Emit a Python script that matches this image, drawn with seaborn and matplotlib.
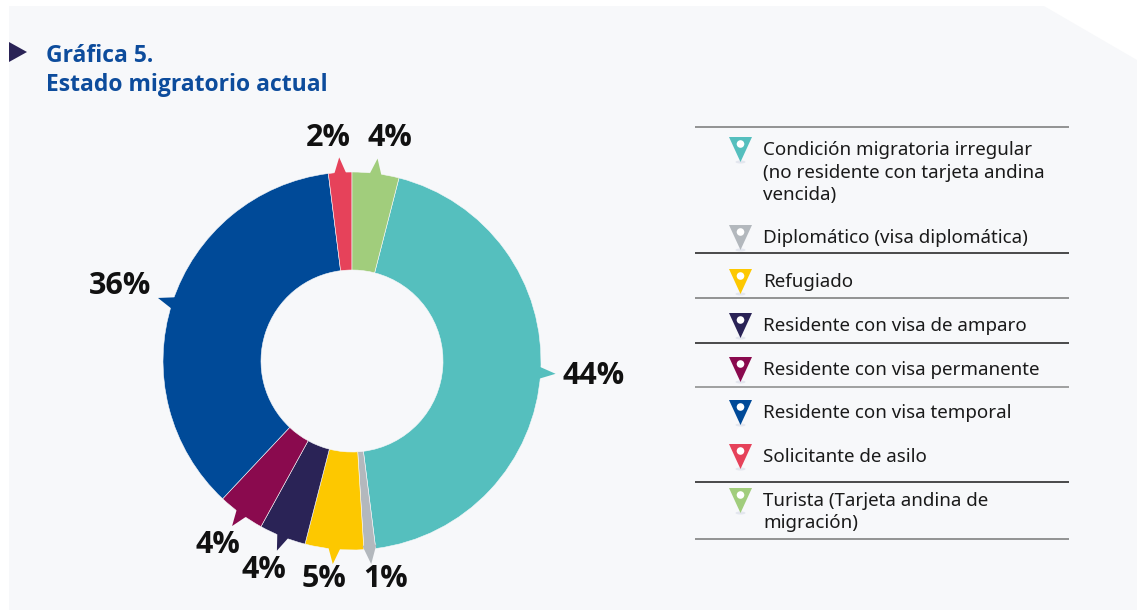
import matplotlib
matplotlib.use("Agg")
import matplotlib.pyplot as plt
import seaborn as sns
import numpy as np
from matplotlib.patches import Polygon, Circle, Ellipse

# ---------------- data ----------------
categories = [
    "Condición migratoria irregular\n(no residente con tarjeta andina\nvencida)",
    "Diplomático (visa diplomática)",
    "Refugiado",
    "Residente con visa de amparo",
    "Residente con visa permanente",
    "Residente con visa temporal",
    "Solicitante de asilo",
    "Turista (Tarjeta andina de\nmigración)",
]
values = [44, 1, 5, 4, 4, 36, 2, 4]
colors = ["#55bfbe", "#b3b8bd", "#fdc800", "#2a2356", "#8a0a4e", "#004a98", "#e6425a", "#a1cd7c"]
title_lines = ["Gráfica 5.", "Estado migratorio actual"]

# ---------------- style ----------------
sns.set_theme(style="white")
plt.rcParams['font.family'] = ['Noto Sans', 'DejaVu Sans']
BOLD = ['Open Sans', 'DejaVu Sans']

W, H = 1137, 610
fig = plt.figure(figsize=(W / 100, H / 100), dpi=100)
fig.patch.set_facecolor("white")
ax = fig.add_axes([0, 0, 1, 1])
ax.set_xlim(0, W)
ax.set_ylim(0, H)
ax.set_aspect("equal")
ax.axis("off")


def Y(y):
    return H - y


BG = "#f7f8fa"
ax.add_patch(Polygon([(9, Y(6)), (1044, Y(6)), (W, Y(60)), (W, 0), (9, 0)],
                     closed=True, facecolor=BG, edgecolor="none", zorder=0))

# title
ax.add_patch(Polygon([(9, Y(42)), (9, Y(62)), (27, Y(52))], closed=True,
                     facecolor="#2a2356", edgecolor="none", zorder=2))
ax.text(46, Y(62), title_lines[0], fontsize=16.5, fontweight="bold", family=BOLD,
        color="#0d4c9c", ha="left", va="baseline")
ax.text(46, Y(91), title_lines[1], fontsize=16.5, fontweight="bold", family=BOLD,
        color="#0d4c9c", ha="left", va="baseline")

# ---------------- donut ----------------
CX, CY = 352, 361
R, RIN = 189, 91
total = sum(values)
start = 90 - 360 * values[-1] / total
wedges, _ = ax.pie(values, colors=colors, startangle=start, counterclock=False,
                   radius=R, center=(CX, Y(CY)), frame=True,
                   wedgeprops=dict(width=R - RIN, edgecolor=BG, linewidth=0.4))
ax.set_xlim(0, W)
ax.set_ylim(0, H)
for w in wedges:
    w.set_zorder(3)

fig.canvas.draw()
renderer = fig.canvas.get_renderer()
cen = np.array([CX, Y(CY)], dtype=float)
labels = []
for w, v, c in zip(wedges, values, colors):
    th = np.deg2rad((w.theta1 + w.theta2) / 2)
    u = np.array([np.cos(th), np.sin(th)])
    n = np.array([-u[1], u[0]])
    tip = cen + (R + 15) * u
    b1 = cen + (R - 4) * u + 7 * n
    b2 = cen + (R - 4) * u - 7 * n
    ax.add_patch(Polygon([b1, tip, b2], closed=True, facecolor=c,
                         edgecolor="none", zorder=3))
    t = ax.text(0, 0, f"{v}%", fontsize=22, fontweight="bold", family=BOLD,
                color="#111111", ha="center", va="center", zorder=4)
    bb = t.get_window_extent(renderer)
    hw, hh = bb.width / 2, bb.height / 2 * 0.8
    ext = abs(u[0]) * hw + abs(u[1]) * hh
    gap = 21 if u[1] > -0.5 else 16
    p = cen + (R + gap + ext) * u
    labels.append([t, p, hw, hh])

# simple relaxation to keep neighbouring labels apart
PAD = 8
for _ in range(60):
    moved = False
    for i in range(len(labels)):
        for j in range(i + 1, len(labels)):
            ti, pi, wi, hi = labels[i]
            tj, pj, wj, hj = labels[j]
            ox = (wi + wj + PAD * 2) - abs(pi[0] - pj[0])
            oy = (hi + hj) - abs(pi[1] - pj[1])
            if ox > 0 and oy > 0:
                s = 1 if pi[0] < pj[0] else -1
                pi[0] -= s * ox / 2 * 0.5
                pj[0] += s * ox / 2 * 0.5
                moved = True
    if not moved:
        break
for t, p, _, _ in labels:
    t.set_position((p[0], p[1]))

# ---------------- legend ----------------
LX0, LX1 = 695, 1069
sep_y = [127, 253, 298, 343, 387, 482, 539]
sep_c = ["#777777", "#1a1a1a", "#777777", "#1a1a1a", "#888888", "#1a1a1a", "#777777"]
for yy, cc in zip(sep_y, sep_c):
    ax.plot([LX0, LX1], [Y(yy), Y(yy)], color=cc, lw=1.1, zorder=2,
            solid_capstyle="butt")

item_y = [148, 236, 280, 324, 368, 411, 455, 499]
LINE_H = 22.5
MX = 740.5
for lab, c, y0 in zip(categories, colors, item_y):
    ax.add_patch(Ellipse((MX, Y(y0 + 14)), 10, 3, facecolor="#e3e6ee",
                         edgecolor="none", zorder=2))
    ax.add_patch(Polygon([(MX - 11.5, Y(y0 - 11)), (MX + 11.5, Y(y0 - 11)),
                          (MX, Y(y0 + 14))], closed=True, facecolor=c,
                         edgecolor="none", zorder=3))
    ax.add_patch(Circle((MX, Y(y0 - 4)), 3.8, facecolor="white",
                        edgecolor="none", zorder=4))
    for k, line in enumerate(lab.split("\n")):
        ax.text(763, Y(y0 + k * LINE_H), line, fontsize=13.5, color="#1a1a1a",
                ha="left", va="center_baseline", zorder=4)

ax.set_xlim(0, W)
ax.set_ylim(0, H)
fig.savefig("out.png", dpi=100, facecolor="white")
